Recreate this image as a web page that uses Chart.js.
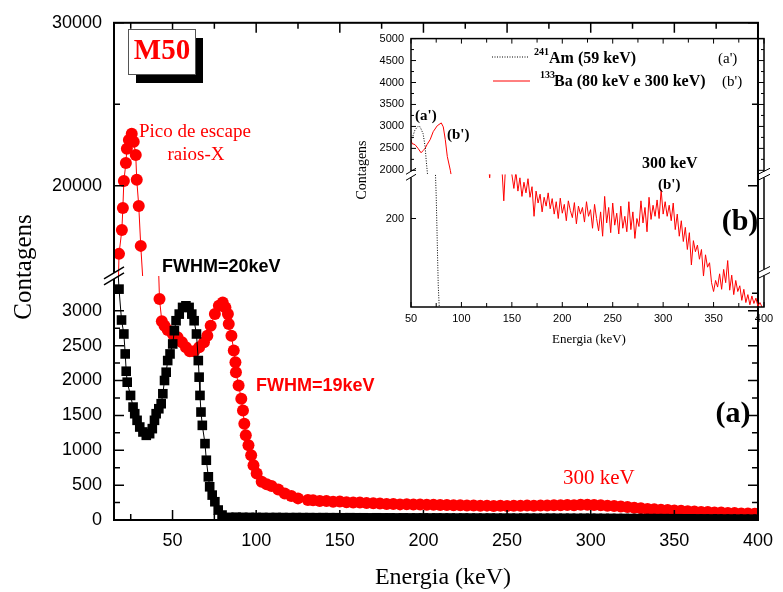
<!DOCTYPE html>
<html>
<head>
<meta charset="utf-8">
<style>
  body { margin: 0; background: #fff; }
  #wrap { position: relative; width: 783px; height: 592px; }
  #main { position: absolute; left: 0; top: 0; }
  #inset { position: absolute; left: 340px; top: 25px; }
</style>
</head>
<body>
<div id="wrap">
  <canvas id="main" width="783" height="592"></canvas>
  <canvas id="inset" width="443" height="330"></canvas>
</div>
<script src="https://cdn.jsdelivr.net/npm/chart.js@4.4.0/dist/chart.umd.min.js"></script>
<script>
// main spectrum, black squares (FWHM=20keV)
const blackE = [16, 18.0, 19.5, 20.9, 21.7, 22.3, 22.9, 24.9, 26.4, 27.4, 28.8, 30.4, 32.3, 34.3, 36.3, 37.9, 39.2,
  40.2, 41.8, 43.2, 44.2, 45.2, 46.2, 47.1, 48.5, 50.1, 51.1, 52.1, 54.0, 56.0, 58.0, 59.9, 61.5, 62.9, 64.3, 65.4, 65.9,
  66.4, 67.0, 67.8, 69.4, 70.2, 71.4, 72.2, 73.7, 75.3, 77.3, 79.6, 83.6,
  88, 92, 96, 100, 104, 108, 112, 116, 120, 124, 128, 132, 136, 140, 144, 148, 152, 156, 160, 164,
  168, 172, 176, 180, 184, 188, 192, 196, 200, 204, 208, 212, 216, 220, 224, 228, 232, 236, 240, 244,
  248, 252, 256, 260, 264, 268, 272, 276, 280, 284, 288, 292, 296, 300, 304, 308, 312, 316, 320, 324,
  328, 332, 336, 340, 344, 348, 352, 356, 360, 364, 368, 372, 376, 380, 384, 388, 392, 396, 400];
const blackC = [4200, 3310, 2867, 2667, 2381, 2133, 1976, 1786, 1619, 1524, 1429, 1333, 1262, 1214, 1238, 1310, 1429,
  1524, 1595, 1667, 1810, 2000, 2119, 2286, 2381, 2524, 2714, 2857, 2952, 3048, 3071, 3048, 2952, 2857, 2667, 2286, 2048,
  1786, 1548, 1357, 1095, 857, 619, 476, 357, 262, 143, 71, 38,
  40, 38, 37, 36, 36, 35, 36, 35, 34, 35, 34, 34, 33, 34, 33, 33, 32, 33, 32, 32,
  31, 32, 31, 31, 30, 31, 30, 30, 30, 29, 30, 29, 29, 28, 29, 28, 28, 27, 28, 27,
  27, 27, 26, 27, 26, 26, 25, 26, 25, 25, 25, 24, 25, 24, 24, 23, 23, 22, 22, 21,
  21, 20, 20, 19, 19, 18, 18, 17, 17, 16, 16, 15, 15, 14, 14, 13, 13, 12, 12];

// main spectrum, red circles (FWHM=19keV)
const redE = [16.5, 18.0, 19.7, 20.3, 20.9, 22.1, 22.7, 23.9, 25.6, 26.8, 28.0, 28.6, 29.8, 31.0, 36,
  42.2, 43.6, 45.2, 47.1, 50.1, 53.0, 55.6, 58.0, 60.3, 62.9, 65.9, 68.8, 70.8, 72.8, 75.3,
  77.7, 80.0, 81.6, 83.1, 83.6, 85.2, 86.6, 87.6, 87.9, 89.5, 91.1, 92.1, 92.9, 93.8, 95.4, 97.0, 98.4, 100.3, 103.3, 106.3,
  109.2, 113.2, 117.1, 121.0, 125.0, 130.9,
  134, 138, 142, 146, 150, 154, 158, 162, 166, 170, 174, 178, 182, 186, 190, 194, 198, 202, 206, 210,
  214, 218, 222, 226, 230, 234, 238, 242, 246, 250, 254, 258, 262, 266, 270, 274, 278, 282, 286, 290,
  294, 298, 302, 306, 310, 314, 318, 322, 326, 330, 334, 338, 342, 346, 350, 354, 358, 362, 366, 370,
  374, 378, 382, 386, 390, 394, 398, 400];
const redC = [9000, 15830, 17300, 18650, 20300, 21400, 22270, 22820, 23190, 22700, 21900, 20370, 18770, 16320, 8000,
  3167, 2848, 2786, 2724, 2667, 2619, 2548, 2476, 2419, 2419, 2476, 2548, 2643, 2786, 2952,
  3071, 3119, 3048, 2952, 2810, 2643, 2429, 2262, 2119, 1929, 1738, 1571, 1381, 1214, 1071, 929, 786, 667, 548, 514,
  486, 438, 381, 343, 310, 286,
  282, 274, 272, 262, 264, 256, 252, 250, 242, 240, 238, 230, 229, 224, 226, 221, 222, 218, 219, 214,
  215, 211, 213, 208, 209, 205, 206, 202, 204, 200, 204, 203, 207, 205, 209, 208, 212, 210, 215, 213,
  217, 219, 214, 211, 204, 201, 192, 186, 174, 167, 159, 155, 147, 143, 135, 131, 124, 122, 116, 114,
  108, 106, 100, 99, 94, 92, 88, 86];

// inset: 241Am (a') dotted, 133Ba (b') red
const insetAmE = [50, 51, 54, 57, 59, 62, 64, 65, 66, 70, 74, 75, 76, 77, 78];
const insetAmC = [2680, 2722, 2925, 3000, 2992, 2834, 2541, 2248, 2000, 1000, 320, 250, 150, 50, 0];
const insetBaE = [50, 51, 54, 57, 60, 62, 64, 66, 69, 72, 76, 80, 82, 84, 86, 89, 95, 126, 128, 130,
  140, 142, 144, 146, 148, 150, 152, 154, 156, 158, 160, 162, 164, 166, 168, 170, 172, 174, 176, 178,
  180, 182, 184, 186, 188, 190, 192, 194, 196, 198, 200, 202, 204, 206, 208, 210, 212, 214, 216, 218,
  220, 222, 224, 226, 228, 230, 232, 234, 236, 238, 240, 242, 244, 246, 248, 250, 252, 254, 256, 258,
  260, 262, 264, 266, 268, 270, 272, 274, 276, 278, 280, 282, 284, 286, 288, 290, 292, 294, 296, 298,
  300, 302, 304, 306, 308, 310, 312, 314, 316, 318, 320, 322, 324, 326, 328, 330, 332, 334, 336, 338,
  340, 342, 344, 346, 348, 350, 352, 354, 356, 358, 360, 362, 364, 366, 368, 370, 372, 374, 376, 378,
  380, 382, 384, 386, 388, 390, 392, 394, 396, 398];
const insetBaC = [2700, 2610, 2585, 2500, 2400, 2450, 2500, 2590, 2700, 2880, 3015, 3080, 2990, 2700, 2315, 2000, 1200, 340, 292, 340,
  320, 240, 330, 310, 320, 300, 268, 305, 262, 292, 250, 282, 258, 290, 248, 272, 205, 262, 235, 255,
  215, 248, 228, 258, 222, 245, 210, 238, 200, 246, 212, 232, 195, 240, 218, 202, 236, 188, 228, 210,
  225, 192, 238, 205, 220, 178, 232, 200, 172, 215, 160, 250, 190, 225, 168, 235, 185, 212, 165, 228,
  178, 205, 170, 238, 175, 215, 155, 200, 182, 240, 190, 225, 170, 248, 198, 230, 205, 242, 200, 265,
  210, 238, 205, 230, 195, 235, 175, 210, 160, 195, 148, 180, 130, 168, 95, 150, 125, 140, 108, 130,
  70, 118, 90, 100, 55, 35, 60, 45, 75, 40, 85, 55, 105, 38, 72, 28, 60, 35, 48, 15,
  40, 10, 28, 5, 25, 8, 20, 2, 10, 0];

// tick values
const mainXMajor = [50, 100, 150, 200, 250, 300, 350, 400];
const mainXMinor = [25, 75, 125, 175, 225, 275, 325, 375];
const mainHighLabels = [20000, 30000];
const mainHighMinor = [25000];
const mainLowLabels = [0, 500, 1000, 1500, 2000, 2500, 3000];
const mainLowMinor = [250, 750, 1250, 1750, 2250, 2750, 3250];
const insetXMajor = [50, 100, 150, 200, 250, 300, 350, 400];
const insetXMinor = [75, 125, 175, 225, 275, 325, 375];
const insetHighLabels = [2000, 2500, 3000, 3500, 4000, 4500, 5000];
const insetHighMinor = [2250, 2750, 3250, 3750, 4250, 4750];
const insetLowLabels = [200];

const SERIF = '"Liberation Serif", "Times New Roman", serif';
const SANS = '"Liberation Sans", Arial, sans-serif';
Chart.defaults.color = '#000';
Chart.defaults.font.family = SANS;

function pts(xs, ys) { return xs.map((x, i) => ({x: x, y: ys[i]})); }
function fixTicks(vals) { return s => { s.ticks = vals.map(v => ({value: v})); }; }

// each dataset only shows inside the band of its own y axis (broken axis)
const perAxisClip = {
  id: 'perAxisClip',
  beforeDatasetDraw(chart, args) {
    const ys = args.meta.yScale, a = chart.chartArea, ctx = chart.ctx;
    ctx.save();
    ctx.beginPath();
    ctx.rect(a.left, ys.top, a.right - a.left, ys.bottom - ys.top);
    ctx.clip();
  },
  afterDatasetDraw(chart) { chart.ctx.restore(); }
};

const decor = {
  id: 'decor',
  afterDraw(chart, args, o) {
    const ctx = chart.ctx, a = chart.chartArea, sc = chart.scales;
    ctx.save();
    ctx.strokeStyle = '#000';
    ctx.lineWidth = o.frameWidth;
    ctx.strokeRect(a.left, a.top, a.right - a.left, a.bottom - a.top);
    ctx.lineWidth = o.tickWidth;
    ctx.beginPath();
    o.xTicks.forEach(([vals, len]) => vals.forEach(v => {
      const p = sc.x.getPixelForValue(v);
      ctx.moveTo(p, a.bottom); ctx.lineTo(p, a.bottom - len);
      ctx.moveTo(p, a.top); ctx.lineTo(p, a.top + len);
    }));
    o.yTicks.forEach(([id, vals, len]) => vals.forEach(v => {
      const p = sc[id].getPixelForValue(v);
      ctx.moveTo(a.left, p); ctx.lineTo(a.left + len, p);
      ctx.moveTo(a.right, p); ctx.lineTo(a.right - len, p);
    }));
    ctx.stroke();
    // axis break marks
    o.breaks.forEach(([side, id, v, w, h]) => {
      const x = side === 'left' ? a.left : a.right;
      const y = sc[id].getPixelForValue(v);
      ctx.fillStyle = '#fff';
      ctx.fillRect(x - 2, y - 3, 4, 6);
      ctx.beginPath();
      ctx.lineWidth = o.tickWidth;
      for (const d of [-3, 3]) { ctx.moveTo(x - w, y + d + h); ctx.lineTo(x + w, y + d - h); }
      ctx.stroke();
    });
    // M50 box
    (o.boxes || []).forEach(b => {
      ctx.fillStyle = '#000';
      ctx.fillRect(b.x + 8, b.y + 9, b.w, b.h);
      ctx.fillStyle = '#fff';
      ctx.fillRect(b.x, b.y, b.w, b.h);
      ctx.lineWidth = 1;
      ctx.strokeStyle = '#555';
      ctx.strokeRect(b.x + 0.5, b.y + 0.5, b.w, b.h);
    });
    // legend samples
    (o.lines || []).forEach(l => {
      ctx.beginPath();
      ctx.setLineDash(l.dash || []);
      ctx.strokeStyle = l.color;
      ctx.lineWidth = 1;
      ctx.moveTo(l.x1, l.y); ctx.lineTo(l.x2, l.y);
      ctx.stroke();
      ctx.setLineDash([]);
    });
    o.texts.forEach(t => {
      ctx.save();
      ctx.translate(t.x, t.y);
      if (t.rot) ctx.rotate(t.rot);
      ctx.font = t.font;
      ctx.fillStyle = t.color || '#000';
      ctx.textAlign = t.align || 'left';
      ctx.textBaseline = 'middle';
      ctx.fillText(t.text, 0, 0);
      ctx.restore();
    });
    ctx.restore();
  }
};

const RED = '#ff0000';

new Chart(document.getElementById('main'), {
  type: 'line',
  data: {
    datasets: [
      { data: pts(blackE, blackC), yAxisID: 'yLow', borderColor: '#000', borderWidth: 1,
        pointStyle: 'rect', pointRadius: 6.8, pointBackgroundColor: '#000', pointBorderWidth: 0 },
      { data: pts(redE, redC), yAxisID: 'yLow', borderColor: RED, borderWidth: 1,
        pointRadius: 6, pointBackgroundColor: RED, pointBorderWidth: 0 },
      { data: pts(redE, redC), yAxisID: 'yHigh', borderColor: RED, borderWidth: 1,
        pointRadius: 6, pointBackgroundColor: RED, pointBorderWidth: 0 }
    ]
  },
  options: {
    responsive: false,
    animation: false,
    layout: { padding: { left: 0, top: 21, right: 18, bottom: 0 } },
    scales: {
      x: {
        type: 'linear', min: 15, max: 400,
        grid: { display: false, drawTicks: false }, border: { display: false },
        afterBuildTicks: fixTicks(mainXMajor),
        afterFit: s => { s.height = 72; },
        ticks: { font: { size: 18 }, padding: 10, autoSkip: false, callback: v => String(v), maxRotation: 0 }
      },
      yLow: {
        type: 'linear', position: 'left', stack: 'y', stackWeight: 245, min: 0, max: 3500,
        grid: { display: false, drawTicks: false }, border: { display: false },
        afterBuildTicks: fixTicks(mainLowLabels),
        afterFit: s => { s.width = 114; },
        ticks: { font: { size: 18 }, padding: 12, autoSkip: false, callback: v => String(v) }
      },
      yHigh: {
        type: 'linear', position: 'left', stack: 'y', stackWeight: 254, min: 14480, max: 30000,
        grid: { display: false, drawTicks: false }, border: { display: false },
        afterBuildTicks: fixTicks(mainHighLabels),
        afterFit: s => { s.width = 114; },
        ticks: { font: { size: 18 }, padding: 12, autoSkip: false, callback: v => String(v) }
      }
    },
    plugins: {
      legend: { display: false },
      tooltip: { enabled: false },
      decor: {
        frameWidth: 2, tickWidth: 1.5,
        xTicks: [[mainXMajor, 10], [mainXMinor, 6]],
        yTicks: [['yHigh', mainHighLabels, 10], ['yHigh', mainHighMinor, 6],
                 ['yLow', mainLowLabels, 10], ['yLow', mainLowMinor, 6]],
        breaks: [['left', 'yLow', 3500, 10, 6]],
        boxes: [{ x: 128, y: 29, w: 67, h: 45 }],
        texts: [
          { text: 'M50', x: 162, y: 52, font: 'bold 29px ' + SERIF, color: RED, align: 'center' },
          { text: 'Pico de escape', x: 139, y: 132, font: '19px ' + SERIF, color: RED },
          { text: 'raios-X', x: 196, y: 155, font: '19px ' + SERIF, color: RED, align: 'center' },
          { text: 'FWHM=20keV', x: 162, y: 267, font: 'bold 18px ' + SANS },
          { text: 'FWHM=19keV', x: 256, y: 386, font: 'bold 18px ' + SANS, color: RED },
          { text: '300 keV', x: 563, y: 478, font: '21px ' + SERIF, color: RED },
          { text: '(a)', x: 733, y: 414, font: 'bold 30px ' + SERIF, align: 'center' },
          { text: 'Energia (keV)', x: 443, y: 578, font: '24px ' + SERIF, align: 'center' },
          { text: 'Contagens', x: 24, y: 267, font: '25px ' + SERIF, align: 'center', rot: -Math.PI / 2 }
        ]
      }
    }
  },
  plugins: [perAxisClip, decor]
});

new Chart(document.getElementById('inset'), {
  type: 'line',
  data: {
    datasets: [
      { data: pts(insetAmE, insetAmC), yAxisID: 'yU', borderColor: '#000', borderWidth: 1, borderDash: [1, 1.5], pointRadius: 0 },
      { data: pts(insetAmE, insetAmC), yAxisID: 'yL', borderColor: '#000', borderWidth: 1, borderDash: [1, 1.5], pointRadius: 0 },
      { data: pts(insetBaE, insetBaC), yAxisID: 'yU', borderColor: RED, borderWidth: 1, pointRadius: 0 },
      { data: pts(insetBaE, insetBaC), yAxisID: 'yL', borderColor: RED, borderWidth: 1, pointRadius: 0 }
    ]
  },
  options: {
    responsive: false,
    animation: false,
    layout: { padding: { left: 0, top: 11, right: 19, bottom: 0 } },
    scales: {
      x: {
        type: 'linear', min: 50, max: 400,
        grid: { display: false, drawTicks: false }, border: { display: false },
        afterBuildTicks: fixTicks(insetXMajor),
        afterFit: s => { s.height = 48; },
        ticks: { font: { size: 11 }, padding: 5, autoSkip: false, callback: v => String(v), maxRotation: 0 }
      },
      yL: {
        type: 'linear', position: 'left', stack: 'y', stackWeight: 134, min: 0, max: 300,
        grid: { display: false, drawTicks: false }, border: { display: false },
        afterBuildTicks: fixTicks(insetLowLabels),
        afterFit: s => { s.width = 71; },
        ticks: { font: { size: 11 }, padding: 7, autoSkip: false, callback: v => String(v) }
      },
      yU: {
        type: 'linear', position: 'left', stack: 'y', stackWeight: 137, min: 1910, max: 5000,
        grid: { display: false, drawTicks: false }, border: { display: false },
        afterBuildTicks: fixTicks(insetHighLabels),
        afterFit: s => { s.width = 71; },
        ticks: { font: { size: 11 }, padding: 7, autoSkip: false, callback: v => String(v) }
      }
    },
    plugins: {
      legend: { display: false },
      tooltip: { enabled: false },
      decor: {
        frameWidth: 1.5, tickWidth: 1,
        xTicks: [[insetXMajor, 5], [insetXMinor, 4]],
        yTicks: [['yU', insetHighLabels, 5], ['yU', insetHighMinor, 3], ['yL', insetLowLabels, 5]],
        breaks: [['left', 'yL', 300, 5, 3], ['right', 'yL', 300, 6, 3], ['right', 'yL', 78, 6, 3]],
        lines: [
          { x1: 152, x2: 188, y: 32, color: '#000', dash: [1, 1.5] },
          { x1: 153, x2: 190, y: 56, color: RED }
        ],
        texts: [
          { text: '241', x: 194, y: 27, font: 'bold 10px ' + SERIF },
          { text: 'Am (59 keV)', x: 209, y: 34, font: 'bold 16px ' + SERIF },
          { text: "(a')", x: 378, y: 34, font: '15px ' + SERIF },
          { text: '133', x: 200, y: 50, font: 'bold 10px ' + SERIF },
          { text: 'Ba (80 keV e 300 keV)', x: 214, y: 57, font: 'bold 16px ' + SERIF },
          { text: "(b')", x: 382, y: 57, font: '15px ' + SERIF },
          { text: "(a')", x: 75, y: 91, font: 'bold 15px ' + SERIF },
          { text: "(b')", x: 107, y: 110, font: 'bold 15px ' + SERIF },
          { text: '300 keV', x: 302, y: 139, font: 'bold 16px ' + SERIF },
          { text: "(b')", x: 318, y: 160, font: 'bold 15px ' + SERIF },
          { text: '(b)', x: 400, y: 197, font: 'bold 30px ' + SERIF, align: 'center' },
          { text: 'Energia (keV)', x: 249, y: 315, font: '13px ' + SERIF, align: 'center' },
          { text: 'Contagens', x: 22, y: 145, font: '14px ' + SERIF, align: 'center', rot: -Math.PI / 2 }
        ]
      }
    }
  },
  plugins: [perAxisClip, decor]
});
</script>
</body>
</html>
